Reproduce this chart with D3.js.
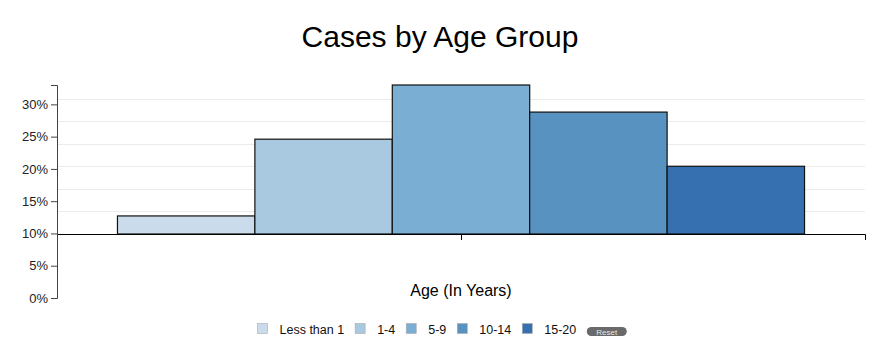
<!DOCTYPE html>
<head>
  <meta charset="utf-8">
  <script src="https://d3js.org/d3.v7.min.js"></script>
  <style>
    body { margin:0; background:#fff; font-family: "Liberation Sans", Arial, Helvetica, sans-serif; }
    .grid line { stroke: #ebebeb; stroke-width: 1px; }
    .bar { stroke: #111; stroke-width: 1.2px; }
    .yaxis path, .yaxis line { stroke: #444; }
    .yaxis text { font-size: 13px; fill: #222; }
    .xaxis path, .xaxis line { stroke: #000; }
  </style>
</head>

<body>
<script>
  // data
  var groups = ["Less than 1", "1-4", "5-9", "10-14", "15-20"];
  var pct = [4, 21, 33, 27, 15];       // share of cases, percent
  var colors = ["#cadcec", "#a8c9df", "#7aaed3", "#5792c1", "#3770b0"];
  var yTicks = [0, 5, 10, 15, 20, 25, 30];

  var margin = {top: 85, left: 57},
      width = 808,
      height = 213,       // y axis length
      barBase = 149;      // bars sit on the x axis, above the bottom of the y axis

  var svg = d3.select("body").append("svg")
    .attr("width", 880)
    .attr("height", 354);

  svg.append("text")
    .attr("x", 440)
    .attr("y", 47)
    .attr("text-anchor", "middle")
    .style("font-size", "30px")
    .style("fill", "#000")
    .text("Cases by Age Group");

  var g = svg.append("g")
    .attr("transform", "translate(" + margin.left + "," + margin.top + ")");

  var maxVal = d3.max(pct);

  var x = d3.scaleBand().domain(groups).range([0, width]).paddingInner(0).paddingOuter(0.44);
  var yBar = d3.scaleLinear().domain([0, maxVal]).range([barBase, 0]);
  var yAxisScale = d3.scaleLinear().domain([0, maxVal]).range([height, 0]);

  // grid lines from the bar scale
  g.append("g").attr("class", "grid")
    .selectAll("line")
    .data(yTicks.filter(function(d) { return d > 0; }))
    .enter().append("line")
    .attr("x1", 0).attr("x2", width)
    .attr("y1", function(d) { return Math.round(yBar(d)) + 0.5; })
    .attr("y2", function(d) { return Math.round(yBar(d)) + 0.5; });

  g.selectAll(".bar")
    .data(pct)
    .enter().append("rect")
    .attr("class", "bar")
    .attr("x", function(d, i) { return x(groups[i]); })
    .attr("width", x.bandwidth())
    .attr("y", function(d) { return yBar(d); })
    .attr("height", function(d) { return barBase - yBar(d); })
    .attr("fill", function(d, i) { return colors[i]; });

  // x axis with one blank tick in the middle
  var xMid = d3.scalePoint().domain([""]).range([0, width]).padding(0.5);
  g.append("g").attr("class", "xaxis")
    .attr("transform", "translate(0," + barBase + ")")
    .call(d3.axisBottom(xMid));

  g.append("g").attr("class", "yaxis")
    .call(d3.axisLeft(yAxisScale).tickValues(yTicks).tickFormat(function(d) { return d + "%"; }));

  svg.append("text")
    .attr("x", margin.left + width / 2)
    .attr("y", 296)
    .attr("text-anchor", "middle")
    .style("font-size", "16px")
    .style("fill", "#000")
    .text("Age (In Years)");

  // legend
  var legend = svg.append("g").attr("transform", "translate(257,323)");
  var lx = 0;
  groups.forEach(function(name, i) {
    legend.append("rect")
      .attr("x", lx + 0.5).attr("y", 0.5)
      .attr("width", 10).attr("height", 10)
      .attr("fill", colors[i])
      .attr("stroke", "#aaa")
      .attr("stroke-width", 0.6);
    var t = legend.append("text")
      .attr("x", lx + 22.5)
      .attr("y", 10.5)
      .style("font-size", "12.5px")
      .style("fill", "#111")
      .text(name);
    lx += 22.5 + t.node().getComputedTextLength() + 10.5;
  });
  legend.append("rect")
    .attr("x", lx).attr("y", 4)
    .attr("width", 40).attr("height", 9)
    .attr("rx", 4.5)
    .attr("fill", "#6a6a6a");
  legend.append("text")
    .attr("x", lx + 20).attr("y", 11.5)
    .attr("text-anchor", "middle")
    .style("font-size", "8px")
    .style("fill", "#e8e8e8")
    .text("Reset");
</script>
</body>
